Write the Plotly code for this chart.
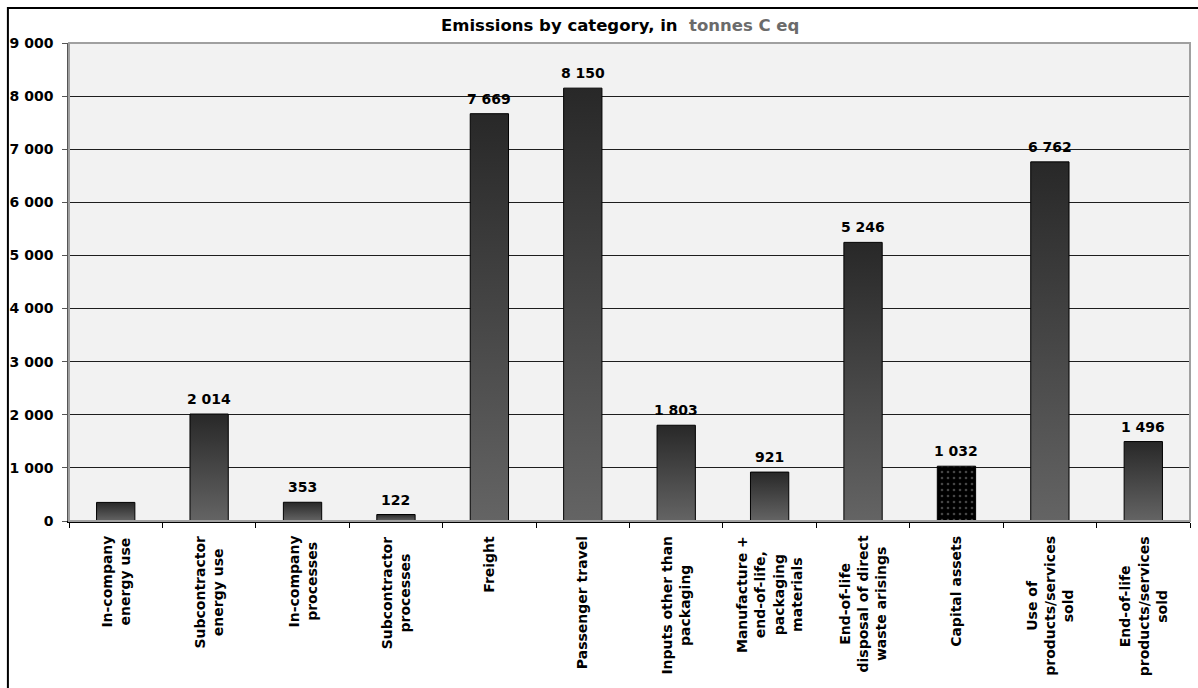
import plotly.graph_objects as go

# Emission categories (line breaks as shown under the axis)
categories = [
    "In-company<br>energy use",
    "Subcontractor<br>energy use",
    "In-company<br>processes",
    "Subcontractor<br>processes",
    "Freight",
    "Passenger travel",
    "Inputs other than<br>packaging",
    "Manufacture +<br>end-of-life,<br>packaging<br>materials",
    "End-of-life<br>disposal of direct<br>waste arisings",
    "Capital assets",
    "Use of<br>products/services<br>sold",
    "End-of-life<br>products/services<br>sold",
]
# Emissions, tonnes C eq
values = [350, 2014, 353, 122, 7669, 8150, 1803, 921, 5246, 1032, 6762, 1496]
# Which bars carry a value label
show_label = [False] + [True] * 11
# Y axis ticks
y_ticks = [0, 1000, 2000, 3000, 4000, 5000, 6000, 7000, 8000, 9000]

FONT = "DejaVu Sans, Verdana, sans-serif"
HALF_W = 0.205
PATTERNED = {"Capital assets"}


def spaced(n):
    return f"{n:,}".replace(",", " ")


fig = go.Figure()

for i, (cat, v) in enumerate(zip(categories, values)):
    xs = [i - HALF_W, i + HALF_W, i + HALF_W, i - HALF_W, i - HALF_W]
    ys = [0, 0, v, v, 0]
    trace = dict(
        x=xs, y=ys, mode="lines", fill="toself",
        line=dict(color="black", width=1),
        name=cat.replace("<br>", " "), showlegend=False,
        hoverinfo="skip",
    )
    if cat in PATTERNED:
        trace["fillcolor"] = "black"
        trace["fillpattern"] = dict(shape=".", fgcolor="#8a8a8a", bgcolor="black",
                                    size=6, solidity=0.15)
    else:
        trace["fillgradient"] = dict(type="vertical", start=0, stop=v,
                                     colorscale=[[0, "#646464"], [1, "#282828"]])
    fig.add_trace(go.Scatter(**trace))

# Value labels above the bars
for i, (v, s) in enumerate(zip(values, show_label)):
    if not s:
        continue
    fig.add_annotation(
        x=i, xref="x", y=v, yref="y", text=f"<b>{spaced(v)}</b>",
        showarrow=False, xanchor="center", yanchor="bottom", yshift=5,
        font=dict(family=FONT, size=14, color="black"),
    )

# Category labels, rotated and centred line by line
for i, cat in enumerate(categories):
    fig.add_annotation(
        x=i, xref="x", y=-0.027, yref="paper",
        text=f"<b>{cat}</b>", textangle=-90, showarrow=False,
        xanchor="center", yanchor="top", align="center",
        font=dict(family=FONT, size=14, color="black"),
    )

# Title
fig.add_annotation(
    x=0.4915, xref="paper", y=1.036, yref="paper",
    text="<b>Emissions by category, in  <span style='color:#6b6b6b'>tonnes C eq</span></b>",
    showarrow=False, xanchor="center", yanchor="middle",
    font=dict(family=FONT, size=16.5, color="black"),
)

# Plot-area frame and outer chart border
fig.add_shape(type="rect", xref="paper", yref="paper", x0=0, y0=0, x1=1, y1=1,
              line=dict(color="#a0a0a0", width=2), layer="above")
fig.add_shape(type="rect", xref="paper", yref="paper",
              x0=-0.0545, y0=-0.36, x1=1.02, y1=1.0732,
              line=dict(color="black", width=2), layer="above")

n = len(categories)
fig.update_layout(
    width=1198, height=688,
    margin=dict(l=69, r=8, t=43, b=167),
    paper_bgcolor="white", plot_bgcolor="#f2f2f2",
    separators=". ",
    font=dict(family=FONT, size=14, color="black"),
    xaxis=dict(
        range=[-0.5, n - 0.5], tickmode="array",
        tickvals=[k - 0.5 for k in range(n + 1)],
        showticklabels=False, ticks="outside", ticklen=5,
        tickcolor="black", showgrid=False, zeroline=False,
        showline=True, linecolor="black", linewidth=1.5,
    ),
    yaxis=dict(
        range=[0, 9000], tickmode="array", tickvals=y_ticks,
        ticktext=[f"<b>{spaced(t)}</b>" for t in y_ticks],
        ticks="outside", ticklen=5, tickcolor="#555",
        ticklabelstandoff=6,
        showgrid=True, gridcolor="#1e1e1e", gridwidth=1,
        zeroline=False, showline=True, linecolor="#555", linewidth=1.5,
        tickfont=dict(family=FONT, size=14, color="black"),
    ),
)

fig.write_html("out.html")
